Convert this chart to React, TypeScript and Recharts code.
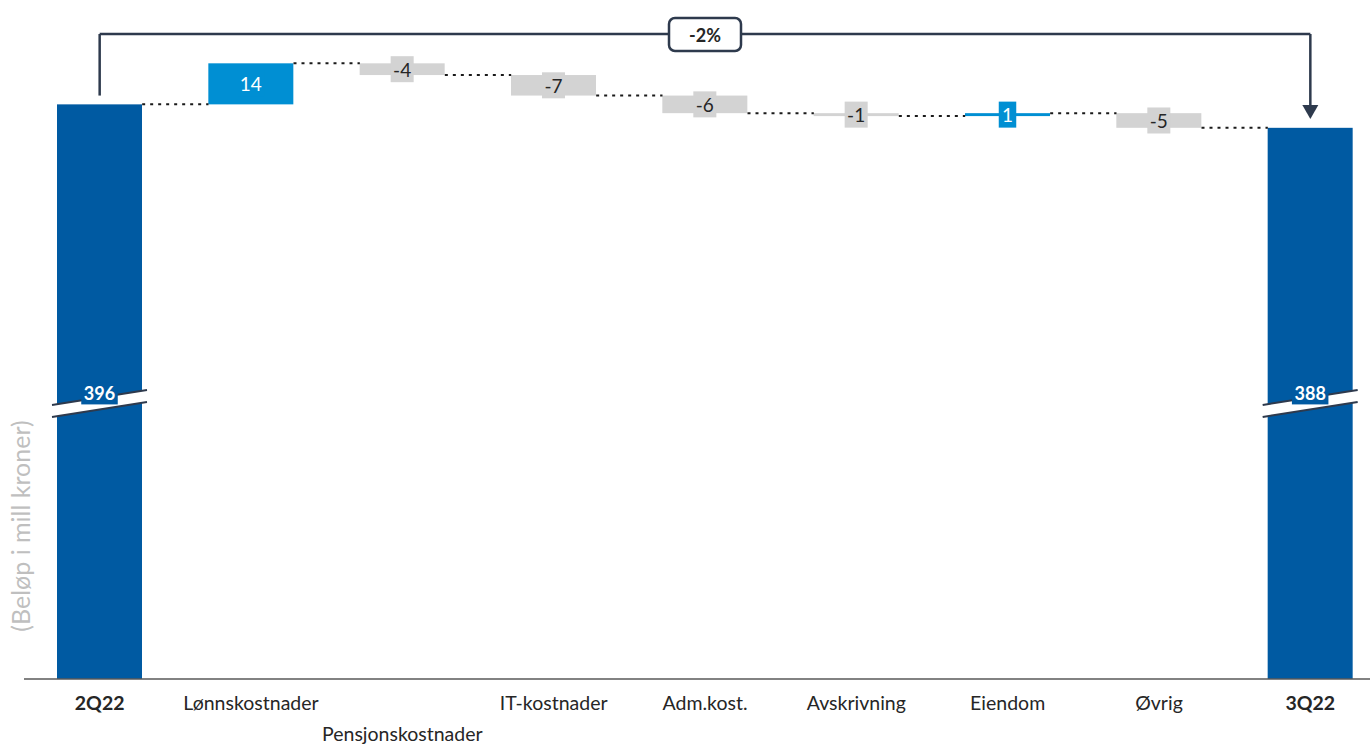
import { ComposedChart, Bar, XAxis, YAxis, ReferenceLine, ReferenceDot, Customized } from 'recharts';

const categories = [
  '2Q22',
  'Lønnskostnader',
  'Pensjonskostnader',
  'IT-kostnader',
  'Adm.kost.',
  'Avskrivning',
  'Eiendom',
  'Øvrig',
  '3Q22',
];
const startValue = 396;
const endValue = 388;
const deltas = [14, -4, -7, -6, -1, 1, -5];
const changeLabel = '-2%';
const yAxisLabel = '(Beløp i mill kroner)';

const COLORS = {
  total: '#005aa2',
  up: '#008fd3',
  down: '#d3d3d3',
  bracket: '#2e3a4d',
  axis: '#595959',
  text: '#262626',
  yLabel: '#bfbfbf',
};

const FONT = 'Lato, "Open Sans", sans-serif';
const CHART_W = 1400;
const CHART_H = 745;
const X_AXIS_H = 30;
const MARGIN = { top: 34, right: 14, bottom: 36, left: 24 };
const BAR_SIZE = 85;
const Y_MIN = 200;
const Y_MAX = 420;
const BREAK_AT = 294;

const STEP = (CHART_W - MARGIN.left - MARGIN.right) / categories.length;
const HALF = BAR_SIZE / STEP / 2;

interface Row {
  idx: number;
  name: string;
  range: [number, number];
  label: string;
  fill: string;
  total: boolean;
  level: number;
}

// build the waterfall rows: start, deltas, end
const rows: Row[] = [];
rows.push({
  idx: 0,
  name: categories[0],
  range: [Y_MIN, startValue],
  label: String(startValue),
  fill: COLORS.total,
  total: true,
  level: startValue,
});
let running = startValue;
deltas.forEach((d, i) => {
  const prev = running;
  running += d;
  rows.push({
    idx: i + 1,
    name: categories[i + 1],
    range: [Math.min(prev, running), Math.max(prev, running)],
    label: String(d),
    fill: d >= 0 ? COLORS.up : COLORS.down,
    total: false,
    level: running,
  });
});
rows.push({
  idx: categories.length - 1,
  name: categories[categories.length - 1],
  range: [Y_MIN, endValue],
  label: String(endValue),
  fill: COLORS.total,
  total: true,
  level: endValue,
});

function textWidth(s: string) {
  let w = 0;
  for (const c of s) w += c === '-' ? 5.5 : 9.5;
  return w;
}

function WaterfallBar(props: any) {
  const { x, width, payload } = props;
  const y = Math.min(props.y, props.y + props.height);
  const h = Math.max(Math.abs(props.height), 2.5);
  const row = payload as Row;
  const cx = x + width / 2;

  if (row.total) {
    const bottom = y + h;
    const breakY = bottom - ((BREAK_AT - Y_MIN) / (row.level - Y_MIN)) * h;
    const l = x - 5;
    const r = x + width + 5;
    const upper = `${l},${breakY + 1.5} ${r},${breakY - 13.5}`;
    const lower = `${l},${breakY + 13.5} ${r},${breakY - 1.5}`;
    const bw = textWidth(row.label) + 8;
    return (
      <g>
        <rect x={x} y={y} width={width} height={h} fill={row.fill} />
        <polygon
          points={`${l},${breakY + 1.5} ${r},${breakY - 13.5} ${r},${breakY - 1.5} ${l},${breakY + 13.5}`}
          fill="#fff"
        />
        <polyline points={upper} stroke={COLORS.bracket} strokeWidth={2} fill="none" />
        <polyline points={lower} stroke={COLORS.bracket} strokeWidth={2} fill="none" />
        <rect x={cx - bw / 2} y={breakY - 21} width={bw} height={22} fill={row.fill} />
        <text
          x={cx}
          y={breakY - 10}
          textAnchor="middle"
          dominantBaseline="central"
          fill="#fff"
          fontWeight="bold"
          fontSize={18}
          fontFamily={FONT}
        >
          {row.label}
        </text>
      </g>
    );
  }

  const bw = textWidth(row.label) + 8;
  const cy = y + h / 2;
  const isUp = row.fill === COLORS.up;
  return (
    <g>
      <rect x={x} y={y} width={width} height={h} fill={row.fill} />
      <rect x={cx - bw / 2} y={cy - 13} width={bw} height={26} fill={row.fill} />
      <text
        x={cx}
        y={cy}
        textAnchor="middle"
        dominantBaseline="central"
        fill={isUp ? '#fff' : COLORS.text}
        fontSize={19}
        fontFamily={FONT}
      >
        {row.label}
      </text>
    </g>
  );
}

function CategoryTick(props: any) {
  const { x, y, payload } = props;
  const i = payload.value as number;
  const row = rows[i];
  const second = i === 2;
  return (
    <text
      x={x}
      y={y + (second ? 54 : 23)}
      textAnchor="middle"
      fill={COLORS.text}
      fontSize={19.5}
      fontWeight={row.total ? 'bold' : 'normal'}
      fontFamily={FONT}
    >
      {row.name}
    </text>
  );
}

function ChangeBadge(props: any) {
  const { cx, cy } = props;
  return (
    <g>
      <rect x={cx - 36} y={cy - 16} width={72} height={33} rx={6} fill="#fff" stroke={COLORS.bracket} strokeWidth={2.5} />
      <text
        x={cx}
        y={cy + 1}
        textAnchor="middle"
        dominantBaseline="central"
        fill={COLORS.text}
        fontWeight="bold"
        fontSize={18}
        fontFamily={FONT}
      >
        {changeLabel}
      </text>
    </g>
  );
}

function ArrowHead(props: any) {
  const { cx, cy } = props;
  return <polygon points={`${cx - 8},${cy - 14} ${cx + 8},${cy - 14} ${cx},${cy}`} fill={COLORS.bracket} />;
}

function YLabel() {
  return (
    <text
      x={20}
      y={526}
      transform="rotate(-90, 20, 526)"
      textAnchor="middle"
      dominantBaseline="central"
      fill={COLORS.yLabel}
      fontSize={25}
      fontFamily={FONT}
    >
      {yAxisLabel}
    </text>
  );
}

export default function App() {
  const last = categories.length - 1;
  return (
    <div style={{ position: 'absolute', left: 0, top: 0, width: 1370, height: 745, overflow: 'hidden', background: '#fff' }}>
      <ComposedChart width={CHART_W} height={CHART_H} data={rows} margin={MARGIN}>
        <XAxis
          type="number"
          dataKey="idx"
          height={X_AXIS_H}
          domain={[-0.5, last + 0.5]}
          ticks={rows.map((r) => r.idx)}
          interval={0}
          tick={<CategoryTick />}
          tickLine={false}
          axisLine={{ stroke: COLORS.axis, strokeWidth: 1.5 }}
          allowDataOverflow
        />
        <YAxis type="number" domain={[Y_MIN, Y_MAX]} hide allowDataOverflow />

        {/* dotted connectors between bars */}
        {rows.slice(0, -1).map((r) => (
          <ReferenceLine
            key={`c${r.idx}`}
            segment={[
              { x: r.idx + HALF, y: r.level },
              { x: r.idx + 1 - HALF, y: r.level },
            ]}
            stroke="#1a1a1a"
            strokeWidth={2}
            strokeDasharray="3 5"
            ifOverflow="visible"
          />
        ))}

        <Bar
          dataKey="range"
          barSize={BAR_SIZE}
          shape={<WaterfallBar />}
          isAnimationActive={false}
        />

        {/* bracket from start to end */}
        <ReferenceLine
          segment={[
            { x: 0, y: startValue + 3 },
            { x: 0, y: Y_MAX },
          ]}
          stroke={COLORS.bracket}
          strokeWidth={2.5}
          ifOverflow="visible"
        />
        <ReferenceLine
          segment={[
            { x: 0, y: Y_MAX },
            { x: last, y: Y_MAX },
          ]}
          stroke={COLORS.bracket}
          strokeWidth={2.5}
          ifOverflow="visible"
        />
        <ReferenceLine
          segment={[
            { x: last, y: Y_MAX },
            { x: last, y: endValue + 6 },
          ]}
          stroke={COLORS.bracket}
          strokeWidth={2.5}
          ifOverflow="visible"
        />
        <ReferenceDot x={last} y={endValue + 3} r={0} shape={<ArrowHead />} ifOverflow="visible" />
        <ReferenceDot x={last / 2} y={Y_MAX} r={0} shape={<ChangeBadge />} ifOverflow="visible" />
        <Customized component={<YLabel />} />
      </ComposedChart>
    </div>
  );
}
